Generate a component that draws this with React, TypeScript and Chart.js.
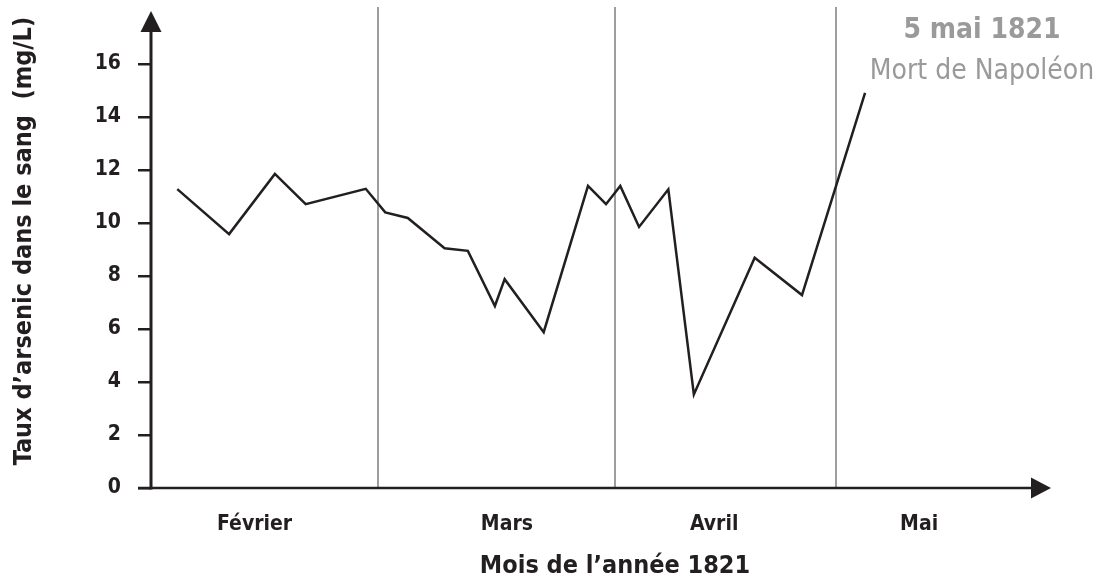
import React, { useEffect, useRef } from "react";
import { Chart, registerables } from "chart.js";

Chart.register(...registerables);

// Days counted from 1 February 1821
const sampleDays = [1.3, 8.2, 14.3, 18.4, 26.4, 29.0, 32.0, 36.9, 40.0, 43.6, 44.9, 50.1, 56.0, 58.4, 60.3, 62.8, 66.7, 70.1, 78.2, 84.5, 92.9];
// Arsenic level in blood (mg/L)
const arsenicLevels = [11.28, 9.58, 11.85, 10.71, 11.29, 10.4, 10.19, 9.05, 8.95, 6.87, 7.88, 5.88, 11.4, 10.71, 11.4, 9.85, 11.27, 3.53, 8.69, 7.28, 14.91];

const monthLabels = ["Février", "Mars", "Avril", "Mai"];
const monthLabelDays = [11.6, 45.2, 72.8, 100.1];
const monthStartDays = [28, 59.6, 89];
const yTickValues = [0, 2, 4, 6, 8, 10, 12, 14, 16];

const yTitle = "Taux d\u2019arsenic dans le sang  (mg/L)";
const xTitle = "Mois de l\u2019ann\u00e9e 1821";
const noteDate = "5 mai 1821";
const noteText = "Mort de Napol\u00e9on";

const INK = "#231f20";
const GRAY_LINE = "#9e9e9e";
const GRAY_TEXT = "#9a9a9a";
const FAMILY = '"DejaVu Sans Condensed", "DejaVu Sans", sans-serif';

const decorPlugin = {
  id: "decor",
  beforeDatasetsDraw(chart: any) {
    const { ctx, chartArea, scales } = chart;
    const xs = scales.x;
    const ys = scales.y;
    ctx.save();
    ctx.strokeStyle = GRAY_LINE;
    ctx.lineWidth = 2;
    monthStartDays.forEach((d) => {
      const px = Math.round(xs.getPixelForValue(d));
      ctx.beginPath();
      ctx.moveTo(px, chartArea.top - 4);
      ctx.lineTo(px, ys.getPixelForValue(0));
      ctx.stroke();
    });
    ctx.restore();
  },
  afterDraw(chart: any) {
    const { ctx, chartArea, scales } = chart;
    const ys = scales.y;
    const x0 = chartArea.left;
    const yb = ys.getPixelForValue(0);
    ctx.save();
    ctx.strokeStyle = INK;
    ctx.fillStyle = INK;
    ctx.lineWidth = 3;
    // y axis with arrow
    ctx.beginPath();
    ctx.moveTo(x0, yb + 1.5);
    ctx.lineTo(x0, chartArea.top + 18);
    ctx.stroke();
    ctx.beginPath();
    ctx.moveTo(x0, chartArea.top);
    ctx.lineTo(x0 - 10.5, chartArea.top + 21);
    ctx.lineTo(x0 + 10.5, chartArea.top + 21);
    ctx.closePath();
    ctx.fill();
    // x axis with arrow
    ctx.lineWidth = 2.6;
    ctx.beginPath();
    ctx.moveTo(x0 - 13, yb);
    ctx.lineTo(chartArea.right + 2, yb);
    ctx.stroke();
    ctx.beginPath();
    ctx.moveTo(chartArea.right + 20, yb);
    ctx.lineTo(chartArea.right, yb - 10.5);
    ctx.lineTo(chartArea.right, yb + 10.5);
    ctx.closePath();
    ctx.fill();

    // axis titles
    ctx.font = `bold 25px ${FAMILY}`;
    ctx.textAlign = "center";
    ctx.textBaseline = "middle";
    ctx.save();
    ctx.translate(24, 241);
    ctx.rotate(-Math.PI / 2);
    ctx.fillText(yTitle, 0, 0);
    ctx.restore();
    ctx.textBaseline = "alphabetic";
    ctx.fillText(xTitle, 615, 573);

    // annotation
    ctx.fillStyle = GRAY_TEXT;
    ctx.font = `bold 28px ${FAMILY}`;
    ctx.fillText(noteDate, 982, 38);
    ctx.font = `28px ${FAMILY}`;
    ctx.fillText(noteText, 982, 79);
    ctx.restore();
  },
};

export default function App() {
  const canvasRef = useRef<HTMLCanvasElement | null>(null);

  useEffect(() => {
    if (!canvasRef.current) return;
    const chart = new Chart(canvasRef.current, {
      type: "line",
      data: {
        datasets: [
          {
            data: sampleDays.map((d, i) => ({ x: d, y: arsenicLevels[i] })),
            borderColor: INK,
            borderWidth: 2.5,
            pointRadius: 0,
            tension: 0,
            fill: false,
          },
        ],
      },
      options: {
        responsive: false,
        animation: false,
        layout: { padding: { top: 11, right: 83, bottom: 0, left: 0 } },
        plugins: {
          legend: { display: false },
          tooltip: { enabled: false },
          title: { display: false },
        },
        scales: {
          x: {
            type: "linear",
            min: -2.2,
            max: 115,
            grid: { display: false },
            border: { display: false },
            afterBuildTicks: (s: any) => {
              s.ticks = monthLabelDays.map((v) => ({ value: v }));
            },
            afterFit: (s: any) => {
              s.height = 93;
              s.paddingLeft = 0;
              s.paddingRight = 0;
            },
            ticks: {
              autoSkip: false,
              maxRotation: 0,
              padding: 16,
              color: INK,
              font: { family: FAMILY, size: 21, weight: "bold" },
              callback: (_v: any, i: number) => monthLabels[i],
            },
          },
          y: {
            type: "linear",
            min: 0,
            max: 18,
            grid: {
              display: true,
              drawOnChartArea: false,
              drawTicks: true,
              tickLength: 13,
              color: INK,
              lineWidth: 2.5,
            },
            border: { display: false },
            afterBuildTicks: (s: any) => {
              s.ticks = yTickValues.map((v) => ({ value: v }));
            },
            afterFit: (s: any) => {
              s.width = 151;
              s.paddingTop = 0;
              s.paddingBottom = 0;
            },
            ticks: {
              padding: 17,
              color: INK,
              font: { family: FAMILY, size: 21, weight: "bold" },
            },
          },
        },
      },
      plugins: [decorPlugin],
    } as any);
    return () => chart.destroy();
  }, []);

  return (
    <div style={{ position: "absolute", left: 0, top: 0, width: 1114, height: 581, background: "#fff" }}>
      <canvas ref={canvasRef} width={1114} height={581} />
    </div>
  );
}
